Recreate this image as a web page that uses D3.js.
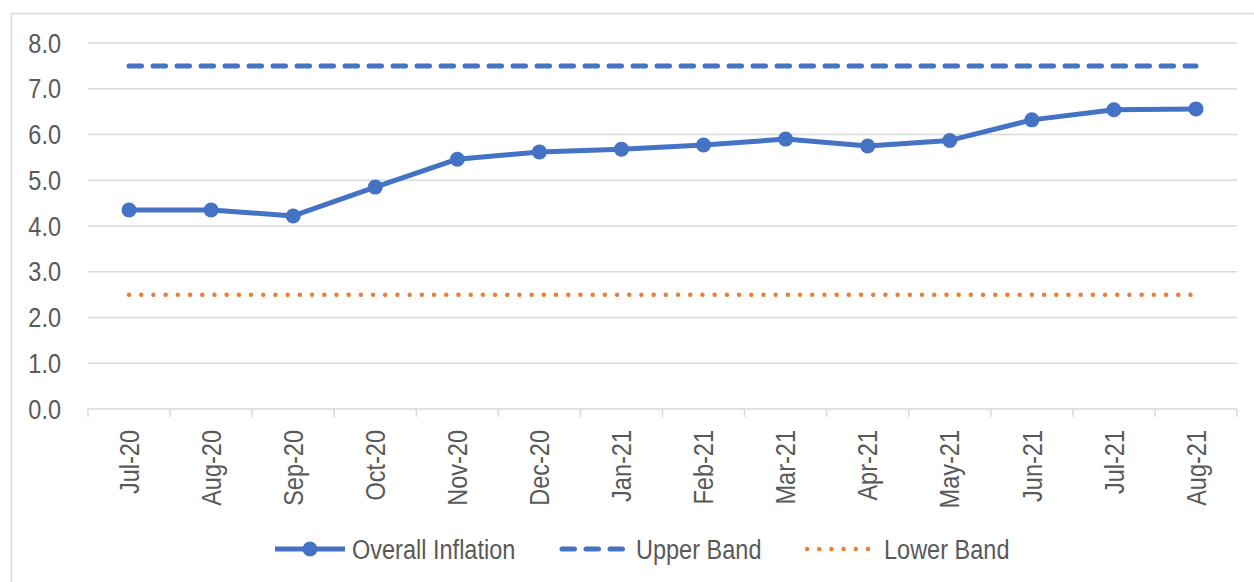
<!DOCTYPE html>
<html><head>
<meta charset="utf-8">
<script src="https://d3js.org/d3.v7.min.js"></script>
<style>
  body { margin: 0; background: #fff; }
  svg text { font-family: "Liberation Sans", Arial, sans-serif; fill: #595959; font-size: 28px; }
</style>
</head>
<body>
<svg id="chart" width="1254" height="582"></svg>
<script>
// data
const months = ["Jul-20","Aug-20","Sep-20","Oct-20","Nov-20","Dec-20","Jan-21","Feb-21","Mar-21","Apr-21","May-21","Jun-21","Jul-21","Aug-21"];
const overall = [4.35, 4.35, 4.22, 4.85, 5.46, 5.62, 5.68, 5.77, 5.90, 5.75, 5.87, 6.32, 6.54, 6.56];
const upperBand = [7.5, 7.5, 7.5, 7.5, 7.5, 7.5, 7.5, 7.5, 7.5, 7.5, 7.5, 7.5, 7.5, 7.5];
const lowerBand = [2.5, 2.5, 2.5, 2.5, 2.5, 2.5, 2.5, 2.5, 2.5, 2.5, 2.5, 2.5, 2.5, 2.5];
const yTicks = [0, 1, 2, 3, 4, 5, 6, 7, 8];

const svg = d3.select("#chart");
const blue = "#4472C4", orange = "#ED7D31", grid = "#d9d9d9";
const squeeze = 0.84; // the original font is a condensed one

// chart border (Excel chart area)
svg.append("rect")
   .attr("x", 11.5).attr("y", 13.5)
   .attr("width", 1260).attr("height", 600)
   .attr("fill", "none").attr("stroke", grid).attr("stroke-width", 1.5);

const plot = { left: 88, right: 1237, top: 43, bottom: 409 };

const x = d3.scaleBand().domain(months).range([plot.left, plot.right]);
const y = d3.scaleLinear().domain([0, 8]).range([plot.bottom, plot.top]);

// gridlines
svg.append("g")
   .selectAll("line").data(yTicks.filter(d => d > 0))
   .join("line")
   .attr("x1", plot.left).attr("x2", plot.right)
   .attr("y1", d => y(d)).attr("y2", d => y(d))
   .attr("stroke", grid).attr("stroke-width", 1.5);

// y labels
svg.append("g")
   .selectAll("text").data(yTicks)
   .join("text")
   .attr("transform", d => "translate(61," + y(d) + ") scale(" + squeeze + ",1)")
   .attr("text-anchor", "end")
   .attr("dominant-baseline", "central")
   .text(d => d.toFixed(1));

// x axis
const xAxis = svg.append("g").attr("transform", "translate(0," + plot.bottom + ")");
xAxis.append("line")
   .attr("x1", plot.left).attr("x2", plot.right)
   .attr("stroke", grid).attr("stroke-width", 1.5);
xAxis.selectAll("line.tick").data(d3.range(months.length + 1))
   .join("line").attr("class", "tick")
   .attr("x1", i => plot.left + i * x.bandwidth())
   .attr("x2", i => plot.left + i * x.bandwidth())
   .attr("y1", 0).attr("y2", 8)
   .attr("stroke", grid).attr("stroke-width", 1.5);
xAxis.selectAll("text").data(months)
   .join("text")
   .attr("transform", d => "translate(" + (x(d) + x.bandwidth() / 2) + ",21) rotate(-90) scale(" + squeeze + ",1)")
   .attr("text-anchor", "end")
   .attr("dominant-baseline", "central")
   .text(d => d);

const cx = d => x(d) + x.bandwidth() / 2;
const line = d3.line().x((d, i) => cx(months[i])).y(d => y(d));

// bands
svg.append("path").datum(upperBand)
   .attr("d", line).attr("fill", "none")
   .attr("stroke", blue).attr("stroke-width", 5)
   .attr("stroke-linecap", "round")
   .attr("stroke-dasharray", "12.5 11.5");
svg.append("path").datum(lowerBand)
   .attr("d", line).attr("fill", "none")
   .attr("stroke", orange).attr("stroke-width", 4.5)
   .attr("stroke-linecap", "round")
   .attr("stroke-dasharray", "0 12.2");

// overall inflation
svg.append("path").datum(overall)
   .attr("d", line).attr("fill", "none")
   .attr("stroke", blue).attr("stroke-width", 5)
   .attr("stroke-linejoin", "round");
svg.append("g").selectAll("circle").data(overall)
   .join("circle")
   .attr("cx", (d, i) => cx(months[i]))
   .attr("cy", d => y(d))
   .attr("r", 7.5)
   .attr("fill", blue);

// legend
const legendY = 549;
const legendItems = [
  { name: "Overall Inflation", x0: 275, x1: 345, tx: 352, color: blue, dash: null, marker: true, w: 5 },
  { name: "Upper Band", x0: 562, x1: 625, tx: 636, color: blue, dash: "12.5 11.5", marker: false, w: 5 },
  { name: "Lower Band", x0: 807, x1: 872, tx: 884, color: orange, dash: "0 12.2", marker: false, w: 4.5 }
];
const lg = svg.append("g").selectAll("g").data(legendItems).join("g");
lg.append("line")
  .attr("x1", d => d.x0).attr("x2", d => d.x1)
  .attr("y1", legendY).attr("y2", legendY)
  .attr("stroke", d => d.color).attr("stroke-width", d => d.w)
  .attr("stroke-linecap", d => d.dash ? "round" : "butt")
  .attr("stroke-dasharray", d => d.dash);
lg.filter(d => d.marker).append("circle")
  .attr("cx", d => (d.x0 + d.x1) / 2).attr("cy", legendY)
  .attr("r", 7.5).attr("fill", d => d.color);
lg.append("text")
  .attr("transform", d => "translate(" + d.tx + "," + legendY + ") scale(" + squeeze + ",1)")
  .attr("dominant-baseline", "central")
  .text(d => d.name);
</script>
</body>
</html>
